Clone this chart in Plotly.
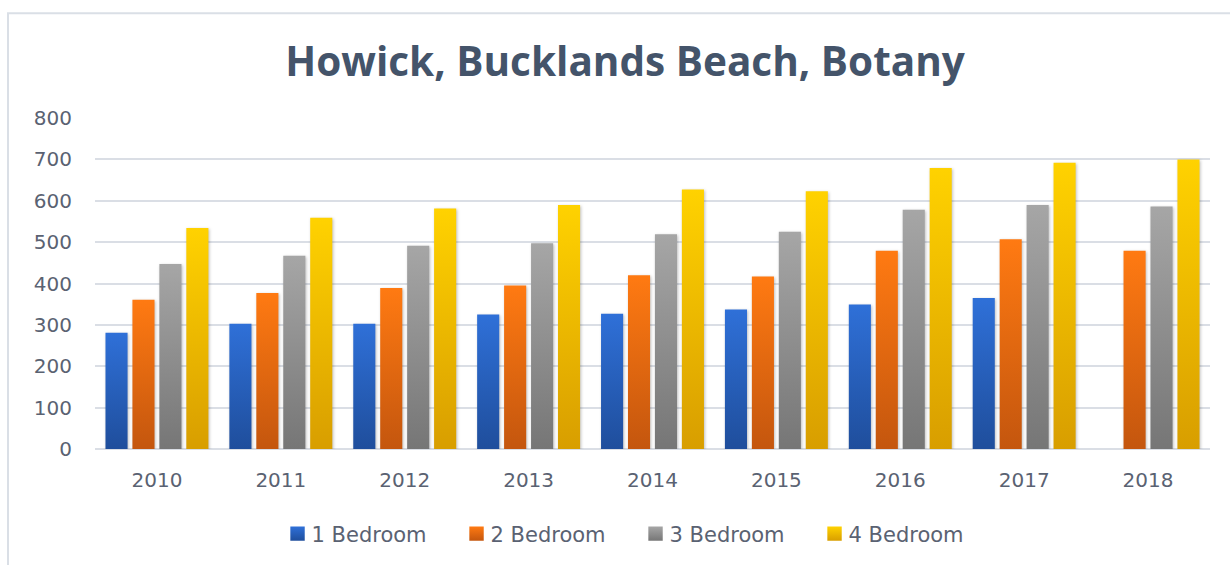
import plotly.graph_objects as go

# Median weekly rent by number of bedrooms
years = ["2010", "2011", "2012", "2013", "2014", "2015", "2016", "2017", "2018"]
bed1 = [281, 303, 303, 325, 327, 337, 349, 365, None]
bed2 = [361, 377, 389, 395, 420, 417, 479, 507, 479]
bed3 = [447, 467, 491, 497, 519, 525, 578, 590, 586]
bed4 = [534, 559, 581, 590, 627, 623, 679, 692, 700]

series_names = ["1 Bedroom", "2 Bedroom", "3 Bedroom", "4 Bedroom"]
series_values = [bed1, bed2, bed3, bed4]
# (top, bottom) colours of each series' vertical gradient
gradients = [("#2F70D8", "#1F4E9C"), ("#FF7A12", "#C4560E"),
             ("#A6A6A6", "#767676"), ("#FFD200", "#D89E00")]

TEXT = "#5A6272"
FONT = "DejaVu Sans"

fig = go.Figure()
for name, vals, (top, bot) in zip(series_names, series_values, gradients):
    fig.add_trace(go.Bar(x=years, y=vals, name=name,
                         marker=dict(color=bot, line=dict(width=0))))

fig.update_layout(
    width=1230, height=565,
    margin=dict(l=95, r=20, t=118, b=115),
    paper_bgcolor="white", plot_bgcolor="white",
    barmode="group", bargap=0.13, bargroupgap=0.18,
    title=dict(text="Howick, Bucklands Beach, Botany",
               font=dict(family="Open Sans", size=40.5, color="#44546A", weight=700),
               x=625 / 1230, xanchor="center", y=1 - 62 / 565, yanchor="middle"),
    font=dict(family=FONT, size=19, color=TEXT),
    showlegend=True,
    legend=dict(orientation="h", x=0.4794, xanchor="center", y=-0.253, yanchor="middle",
                font=dict(family=FONT, size=21, color=TEXT),
                entrywidth=134, itemwidth=30, traceorder="normal"),
    xaxis=dict(showgrid=False, showline=False, ticks="", tickfont=dict(size=20),
               ticklabelstandoff=17),
    yaxis=dict(range=[0, 800], dtick=100, showgrid=True, gridcolor="#DADEE5",
               gridwidth=2, zeroline=True, zerolinecolor="#DADEE5", zerolinewidth=2,
               showline=False, ticks="", tickfont=dict(size=20), ticklabelstandoff=22),
    shapes=[dict(type="rect", xref="paper", yref="paper",
                 x0=(8 - 95) / 1115, x1=(1234 - 95) / 1115,
                 y0=(450 - 570) / 332, y1=(450 - 13) / 332,
                 line=dict(color="#DADFE6", width=2), fillcolor="rgba(0,0,0,0)",
                 layer="below")],
)

grad_js = ",".join('["%s","%s"]' % g for g in gradients)
post = """
var gd = document.getElementById('{plot_id}');
var grads = [%s];
function applyGradients() {
  var ns = 'http://www.w3.org/2000/svg';
  var svg = gd.querySelector('svg.main-svg');
  if (!svg) return;
  var defs = svg.querySelector('defs');
  grads.forEach(function (g, i) {
    var id = 'barfill' + i;
    if (document.getElementById(id)) return;
    var lg = document.createElementNS(ns, 'linearGradient');
    lg.setAttribute('id', id);
    lg.setAttribute('x1', '0'); lg.setAttribute('y1', '0');
    lg.setAttribute('x2', '0'); lg.setAttribute('y2', '1');
    [[0, g[0]], [1, g[1]]].forEach(function (s) {
      var st = document.createElementNS(ns, 'stop');
      st.setAttribute('offset', s[0]);
      st.setAttribute('stop-color', s[1]);
      lg.appendChild(st);
    });
    defs.appendChild(lg);
  });
  gd.querySelectorAll('.barlayer .trace.bars').forEach(function (tr, i) {
    tr.querySelectorAll('path').forEach(function (p) {
      p.style.fill = 'url(#barfill' + i + ')';
      p.style.filter = 'drop-shadow(1px 1px 1.5px rgba(0,0,0,0.25))';
    });
  });
  gd.querySelectorAll('.legend .traces').forEach(function (tr, i) {
    tr.querySelectorAll('.legendpoints path').forEach(function (p) {
      p.style.fill = 'url(#barfill' + i + ')';
      if (!p.getAttribute('data-sized')) {
        var t = p.getAttribute('transform') || '';
        p.setAttribute('transform', t + ' translate(6,0) scale(1.2)');
        p.setAttribute('data-sized', '1');
      }
    });
  });
}
applyGradients();
gd.on('plotly_afterplot', applyGradients);
""" % grad_js

fig.write_html("out.html", post_script=post)
